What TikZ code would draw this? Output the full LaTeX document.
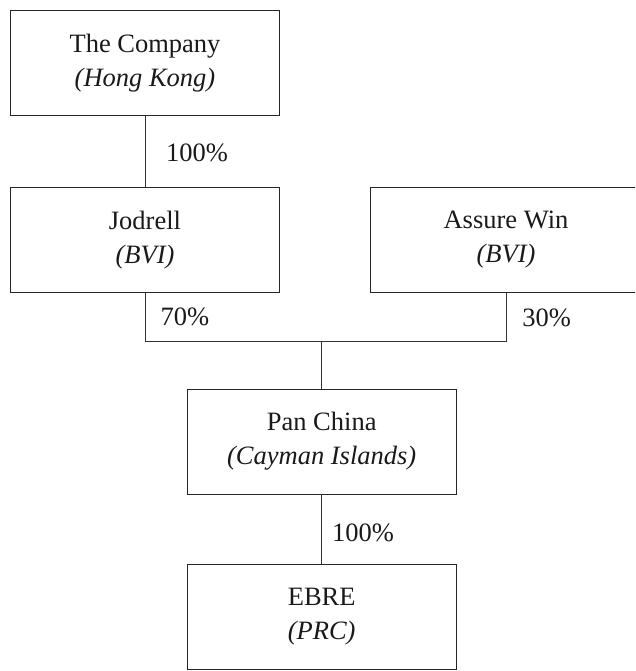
\documentclass[tikz,border=0pt]{standalone}
\usepackage{fontspec}
\setmainfont{Liberation Serif}
\begin{document}
\begin{tikzpicture}[x=1pt,y=-1pt,
  entity/.style={draw=black!85,line width=0.9pt,minimum width=269pt,minimum height=105pt,inner sep=0pt,align=center,
    font=\fontsize{26.5}{34}\selectfont,text=black!90},
  pct/.style={font=\fontsize{26.5}{32}\selectfont,text=black!90,inner sep=0pt},
  link/.style={draw=black!80,line width=0.9pt}]
\useasboundingbox (0,0) rectangle (635,671);
\begin{scope}
\clip (0,0) rectangle (635,671);
\node[entity] (b1) at (145,63.2) {The Company\\\textit{(Hong Kong)}};
\node[entity] (b2) at (145,239.8) {Jodrell\\\textit{(BVI)}};
\node[entity,minimum width=271pt] (b3) at (506,239.8) {Assure Win\\\textit{(BVI)}};
\node[entity] (b4) at (321.7,441.5) {Pan China\\\textit{(Cayman Islands)}};
\node[entity] (b5) at (321.7,616.5) {EBRE\\\textit{(PRC)}};
\end{scope}
\coordinate (j) at (321.7,341.7);
\draw[link] (b1.south) -- (b2.north);
\draw[link] (b2.south) |- (j);
\draw[link] (b3.south) |- (j);
\draw[link] (j) -- (b4.north);
\draw[link] (b4.south) -- (b5.north);
\node[pct] (p1) at (197,153) {100\%};
\node[pct] (p2) at (185,317) {70\%};
\node[pct] (p3) at (546.7,318) {30\%};
\node[pct] (p4) at (363,533) {100\%};
\end{tikzpicture}
\end{document}
